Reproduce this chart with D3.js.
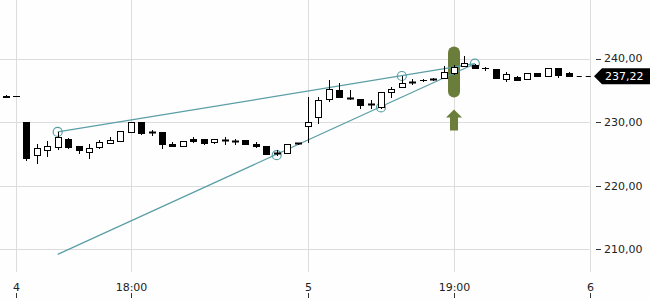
<!DOCTYPE html>
<html>
<head>
<meta charset="utf-8">
<script src="https://cdn.jsdelivr.net/npm/d3@7"></script>
<style>
  html, body { margin: 0; padding: 0; background: #fefefe; }
  svg { display: block; font-family: "DejaVu Sans", sans-serif; }
</style>
</head>
<body>
<div id="wrapper"></div>
<script>
// candle index runs from -2 to 52
const firstIndex = -2;
const opens = [234.15, 234.1, 230.0, 224.85, 225.55, 226.0, 227.4, 226.2, 225.4, 226.0,
  226.8, 227.1, 228.5, 230.0, 228.4, 228.4, 226.5, 226.3, 227.4, 227.3,
  226.75, 227.12, 227.0, 227.15, 226.6, 226.2, 225.2, 225.1, 226.65, 229.3,
  230.75, 233.55, 235.05, 233.73, 233.6, 232.8, 232.4, 234.6, 235.55, 236.35,
  236.6, 236.78, 236.98, 237.76, 238.82, 239.0, 238.45, 238.3, 236.77, 237.13,
  236.72, 237.76, 237.24, 238.46, 237.67];
const highs = [234.2, 234.1, 230.0, 226.5, 227.0, 228.45, 227.45, 226.2, 226.5, 227.2,
  227.7, 228.6, 230.0, 230.0, 228.75, 228.4, 226.85, 227.1, 227.6, 227.3,
  227.3, 227.6, 227.4, 227.15, 226.8, 226.2, 225.6, 226.5, 226.65, 234.0,
  233.9, 236.6, 236.2, 235.05, 233.6, 233.45, 234.8, 235.55, 237.3, 236.7,
  236.8, 236.9, 238.8, 239.0, 240.35, 239.2, 238.7, 238.3, 237.8, 237.3,
  237.67, 237.76, 238.55, 238.46, 237.92];
const lows = [234.05, 234.1, 224.0, 223.5, 224.7, 225.8, 225.9, 225.2, 224.4, 226.0,
  226.8, 227.1, 228.5, 228.2, 228.0, 226.0, 226.2, 226.3, 226.9, 226.6,
  226.75, 226.5, 226.6, 226.5, 226.1, 225.0, 224.8, 225.1, 226.6, 226.9,
  229.8, 233.35, 233.9, 233.7, 232.15, 232.15, 232.15, 234.0, 235.5, 235.95,
  236.4, 236.65, 236.9, 237.6, 238.82, 238.6, 238.2, 236.88, 236.5, 236.6,
  236.72, 237.35, 237.24, 237.04, 237.22];
const closes = [234.05, 234.1, 224.4, 226.0, 226.2, 227.6, 226.1, 225.5, 226.0, 226.85,
  227.2, 228.6, 230.0, 228.2, 228.38, 226.5, 226.2, 227.1, 227.1, 226.7,
  227.3, 227.1, 226.98, 226.5, 226.3, 225.0, 225.18, 226.5, 226.6, 230.0,
  233.45, 235.15, 233.9, 233.7, 232.7, 232.78, 234.8, 235.15, 236.2, 236.33,
  236.62, 236.76, 237.92, 238.7, 239.24, 238.6, 238.46, 236.88, 237.5, 236.72,
  237.67, 237.35, 238.55, 237.4, 237.22];

const lastPrice = 237.22;

const xTickIndex = [-1, 10, 27, 41, 54];
const xTickLabels = ["4", "18:00", "5", "19:00", "6"];
const yTicks = [210, 220, 230, 240];

// trend lines [index, value]
const upperLine = [[3, 228.45], [43, 239.18]];
const lowerLine = [[3, 209.2], [43, 239.18]];
const touchPoints = [[3, 228.45], [36, 237.25], [24, 224.8], [34, 232.3], [43, 239.18]];

// highlighted candle
const markIndex = 41;
const markRange = [241.9, 233.85];

const drawChart = () => {
  const dimensions = { width: 650, height: 300, plotRight: 589.6, gridBottom: 272 };

  const dataset = opens.map((o, k) => ({
    i: firstIndex + k,
    open: o,
    high: highs[k],
    low: lows[k],
    close: closes[k],
  }));

  const locale = d3.formatLocale({ decimal: ",", thousands: ".", grouping: [3], currency: ["", ""] });
  const priceFormat = locale.format(".2f");

  const xScale = d3.scaleLinear().domain([0, 54]).range([26.4, dimensions.plotRight]);
  const yScale = d3.scaleLinear().domain([210, 240]).range([249.3, 58.5]);

  const px = (v) => Math.round(v) + 0.5;
  const bodyTop = (d) => px(yScale(Math.max(d.open, d.close)));
  const bodyHeight = (d) =>
    Math.round(yScale(Math.min(d.open, d.close)) - yScale(Math.max(d.open, d.close)));

  const wrapper = d3
    .select("#wrapper")
    .append("svg")
    .attr("width", dimensions.width)
    .attr("height", dimensions.height);

  wrapper.append("rect")
    .attr("width", dimensions.width)
    .attr("height", dimensions.height)
    .attr("fill", "#fefefe");

  // grid
  const grid = wrapper.append("g").attr("stroke", "#dcdcdc").attr("stroke-width", 1);
  grid.selectAll(".hgrid")
    .data(yTicks)
    .join("line")
    .attr("class", "hgrid")
    .attr("x1", 0)
    .attr("x2", dimensions.plotRight)
    .attr("y1", (d) => px(yScale(d)))
    .attr("y2", (d) => px(yScale(d)));
  grid.selectAll(".vgrid")
    .data(xTickIndex)
    .join("line")
    .attr("class", "vgrid")
    .attr("x1", (d) => px(xScale(d)))
    .attr("x2", (d) => px(xScale(d)))
    .attr("y1", 0)
    .attr("y2", dimensions.gridBottom);

  // x axis labels + tick marks
  const xAxis = wrapper.append("g");
  xAxis.selectAll("text")
    .data(xTickIndex)
    .join("text")
    .attr("x", (d) => px(xScale(d)))
    .attr("y", 291)
    .attr("text-anchor", "middle")
    .attr("fill", "#222")
    .style("font-size", "11px")
    .text((d, k) => xTickLabels[k]);
  xAxis.selectAll("line")
    .data(xTickIndex)
    .join("line")
    .attr("x1", (d) => px(xScale(d)))
    .attr("x2", (d) => px(xScale(d)))
    .attr("y1", 293)
    .attr("y2", 298)
    .attr("stroke", "#333");

  // y axis labels (right)
  const yAxis = wrapper.append("g");
  yAxis.selectAll("line")
    .data(yTicks)
    .join("line")
    .attr("x1", 596)
    .attr("x2", 601)
    .attr("y1", (d) => px(yScale(d)))
    .attr("y2", (d) => px(yScale(d)))
    .attr("stroke", "#333");
  yAxis.selectAll("text")
    .data(yTicks)
    .join("text")
    .attr("x", 604)
    .attr("y", (d) => yScale(d))
    .attr("dy", "0.35em")
    .attr("fill", "#222")
    .style("font-size", "11px")
    .text((d) => priceFormat(d));

  // highlight marker behind the candle
  const mx = xScale(markIndex);
  wrapper.append("rect")
    .attr("x", mx - 6)
    .attr("y", yScale(markRange[0]))
    .attr("width", 12)
    .attr("height", yScale(markRange[1]) - yScale(markRange[0]))
    .attr("rx", 6)
    .attr("fill", "#6b7d3a");
  const ay = yScale(markRange[1]) + 12;
  wrapper.append("path")
    .attr("d", `M${mx},${ay} L${mx + 8},${ay + 8} L${mx + 4},${ay + 8} L${mx + 4},${ay + 21}
      L${mx - 4},${ay + 21} L${mx - 4},${ay + 8} L${mx - 8},${ay + 8} Z`)
    .attr("fill", "#6b7d3a");

  // trend lines
  const line = d3.line().x((d) => xScale(d[0])).y((d) => yScale(d[1]));
  const trend = wrapper.append("g")
    .attr("fill", "none")
    .attr("stroke", "#5a9ea6")
    .attr("stroke-width", 1.2);
  trend.selectAll("path")
    .data([upperLine, lowerLine])
    .join("path")
    .attr("d", line);

  // candles
  const candles = wrapper.append("g").selectAll("g")
    .data(dataset)
    .join("g");
  candles.append("line")
    .attr("x1", (d) => px(xScale(d.i)))
    .attr("x2", (d) => px(xScale(d.i)))
    .attr("y1", (d) => Math.round(yScale(d.high)))
    .attr("y2", (d) => Math.round(yScale(d.low)) + 1)
    .attr("stroke", "#000");
  // regular bodies
  candles.filter((d) => bodyHeight(d) >= 1)
    .append("rect")
    .attr("x", (d) => px(xScale(d.i)) - 3)
    .attr("y", bodyTop)
    .attr("width", 6)
    .attr("height", bodyHeight)
    .attr("fill", (d) => (d.close < d.open ? "#000" : "#fff"))
    .attr("stroke", "#000");
  // flat bodies (open ~ close)
  candles.filter((d) => bodyHeight(d) < 1)
    .append("line")
    .attr("x1", (d) => px(xScale(d.i)) - 3.5)
    .attr("x2", (d) => px(xScale(d.i)) + 3.5)
    .attr("y1", bodyTop)
    .attr("y2", bodyTop)
    .attr("stroke", "#000")
    .attr("stroke-width", (d) => (d.close < d.open ? 2 : 1));

  trend.selectAll("circle")
    .data(touchPoints)
    .join("circle")
    .attr("cx", (d) => xScale(d[0]))
    .attr("cy", (d) => yScale(d[1]))
    .attr("r", 4.5);

  // last price
  const ly = yScale(lastPrice);
  wrapper.append("line")
    .attr("x1", xScale(52) + 8)
    .attr("x2", 592)
    .attr("y1", px(ly))
    .attr("y2", px(ly))
    .attr("stroke", "#000")
    .attr("stroke-dasharray", "5,4");
  wrapper.append("path")
    .attr("d", `M594,${ly} L602,${ly - 8} L650,${ly - 8} L650,${ly + 8} L602,${ly + 8} Z`)
    .attr("fill", "#000");
  wrapper.append("text")
    .attr("x", 605)
    .attr("y", ly)
    .attr("dy", "0.35em")
    .attr("fill", "#fff")
    .style("font-size", "11px")
    .text(priceFormat(lastPrice));
};

drawChart();
</script>
</body>
</html>
